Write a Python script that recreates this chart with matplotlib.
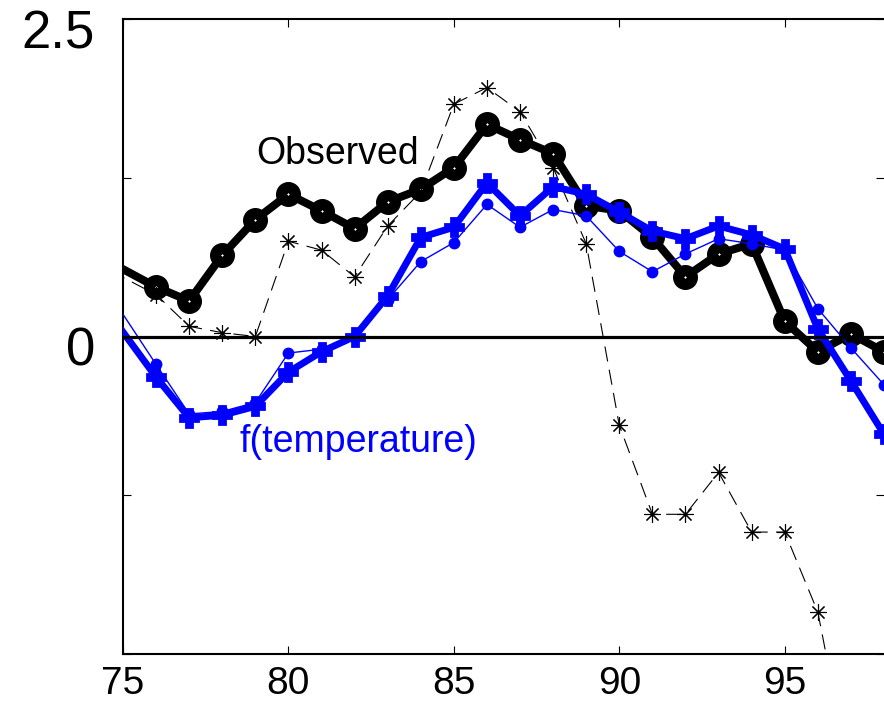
import numpy as np
import matplotlib.pyplot as plt
from matplotlib.transforms import ScaledTranslation

plt.rcParams['font.family'] = ['Liberation Sans', 'DejaVu Sans']
plt.rcParams['lines.scale_dashes'] = False

# years (the 1974 point only carries the lines in from the left edge)
years = [74, 76, 77, 78, 79, 80, 81, 82, 83, 84, 85, 86, 87,
         88, 89, 90, 91, 92, 93, 94, 95, 96, 97, 98]

observed = [0.67, 0.39, 0.28, 0.64, 0.92, 1.12, 0.99, 0.85, 1.06, 1.16, 1.33, 1.67, 1.55,
            1.44, 1.03, 0.99, 0.78, 0.47, 0.65, 0.73, 0.12, -0.12, 0.02, -0.12]

temp_fit = [0.39, -0.32, -0.64, -0.62, -0.55, -0.28, -0.12, 0.00, 0.32, 0.78, 0.86, 1.21, 0.95,
            1.18, 1.12, 0.98, 0.83, 0.77, 0.87, 0.80, 0.69, 0.06, -0.35, -0.77]

temp_alt = [0.57, -0.22, -0.61, -0.59, -0.52, -0.13, -0.10, 0.00, 0.29, 0.59, 0.74, 1.04, 0.86,
            1.00, 0.95, 0.67, 0.51, 0.65, 0.77, 0.73, 0.68, 0.22, -0.09, -0.38]

# dashed series stops once it falls well below the axis
star_years = years[:23]
star_vals = [0.60, 0.33, 0.08, 0.03, 0.00, 0.75, 0.68, 0.47, 0.87, 1.14, 1.83, 1.96, 1.77,
             1.33, 0.73, -0.70, -1.40, -1.40, -1.07, -1.54, -1.54, -2.17, -3.50]

ytick_vals = [-2.5, -1.25, 0, 1.25, 2.5]
ytick_text = ['', '', '0', '', '2.5']
xtick_vals = [75, 80, 85, 90, 95]

fig = plt.figure(figsize=(8.84, 7.01), dpi=100)
ax = fig.add_axes([123 / 884, 47 / 701, 761 / 884, 635 / 701])

ax.plot(years, observed, color='black', lw=5.8, marker='o', ms=10, mew=8.0,
        mfc='white', mec='black', zorder=2)
ax.plot(star_years, star_vals, color='black', lw=0.8, dashes=(11, 6),
        marker=(8, 2, 0), ms=12, mew=0.8, zorder=3)
ax.plot(years, temp_fit, color='#0000ff', lw=5.0, marker='P', ms=13, mew=2.0,
        mfc='#0000ff', mec='#0000ff', zorder=4)
ax.plot(years, temp_alt, color='#0000ff', lw=1.0, marker='o', ms=7.5,
        mfc='#0000ff', mec='#0000ff', zorder=5)
ax.axhline(0, color='black', lw=2.3, zorder=6)

ax.text(81.47, 1.36, 'Observed', fontsize=27, color='black', ha='center', va='baseline')
ax.text(82.11, -0.91, 'f(temperature)', fontsize=27, color='#0000ff', ha='center', va='baseline')

ax.set_xlim(75, 98)
ax.set_ylim(-2.5, 2.5)
ax.set_xticks(xtick_vals)
ax.set_yticks(ytick_vals)
ax.set_yticklabels(ytick_text)

ax.spines['right'].set_visible(False)
for side in ['left', 'bottom', 'top']:
    ax.spines[side].set_linewidth(1.5)

ax.tick_params(axis='x', direction='in', length=5.5, width=0.8, top=True,
               labelsize=28, pad=9)
ax.tick_params(axis='y', direction='in', length=5.5, width=0.8, right=True,
               labelsize=38, pad=20)

# y labels sit a little lower than their ticks
shift = ScaledTranslation(0, -7 / 72, fig.dpi_scale_trans)
for lab in ax.get_yticklabels():
    lab.set_transform(lab.get_transform() + shift)

fig.savefig('out.png', dpi=100)
